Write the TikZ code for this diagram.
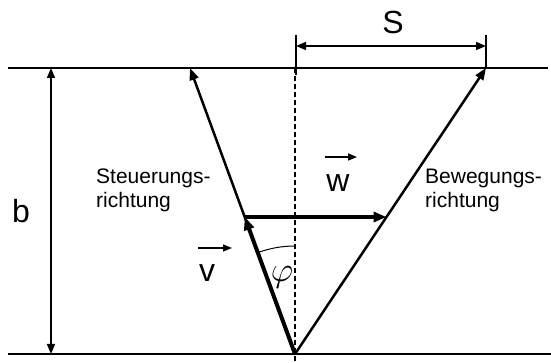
\documentclass[tikz,border=0pt]{standalone}
\usepackage{fontspec}
\setmainfont{Liberation Sans}
\usetikzlibrary{arrows.meta}
\begin{document}
\begin{tikzpicture}[x=1pt,y=1pt,
  borderline/.style={line width=1.6pt},
  dimline/.style={line width=1.5pt},
  dimtip/.style={{Triangle[length=10pt,width=8pt]}-{Triangle[length=10pt,width=8pt]}},
  dirline/.style={line width=2.5pt,-{Triangle[length=12pt,width=9pt]}},
  vecline/.style={line width=4pt,-{Triangle[length=13pt,width=10pt]}},
  smallarrow/.style={line width=1.5pt,-{Triangle[length=9pt,width=7pt]}},
  bigtext/.style={inner sep=0pt,font=\fontsize{32}{36}\selectfont},
  smalltext/.style={inner sep=0pt,font=\fontsize{21}{24}\selectfont,anchor=base west},
]
\useasboundingbox (0,0) rectangle (551,363);
% reference points
\coordinate (TL) at (8,295);
\coordinate (TR) at (548,295);
\coordinate (BL) at (8,9);
\coordinate (BR) at (551,9);
\coordinate (O) at (295,9);
\coordinate (T) at (190,295);
\coordinate (B) at (486,295);
\coordinate (V) at (244.7,146);
\coordinate (W) at (386.5,146);
\coordinate (Dtop) at (295,295);
\coordinate (Dbot) at (295,0);
\coordinate (bT) at (51,295);
\coordinate (bB) at (51,9);
\coordinate (S1a) at (296,288);
\coordinate (S1b) at (296,328);
\coordinate (S2a) at (486,295);
\coordinate (S2b) at (486,328);
\coordinate (SL) at (296,317);
\coordinate (SR) at (486,317);
% horizontal borders
\draw[borderline] (TL) -- (TR);
\draw[borderline] (BL) -- (BR);
% dashed vertical
\draw[line width=1.1pt,dash pattern=on 5pt off 3pt] (Dtop) -- (Dbot);
% b dimension
\draw[dimline,dimtip] (bT) -- (bB);
\node[bigtext] (b) at (21,152) {b};
% S dimension
\draw[dimline] (S1a) -- (S1b);
\draw[dimline] (S2a) -- (S2b);
\draw[dimline,dimtip] (SL) -- (SR);
\node[bigtext] (S) at (393,341) {S};
% direction lines
\draw[dirline] (O) -- (T);
\draw[dirline] (O) -- (B);
% vectors
\draw[vecline] (O) -- (V);
\draw[vecline] (V) -- (W);
% angle arc
\draw[line width=1pt] (O) ++(90:108) arc[start angle=90,end angle=110.2,radius=108];
\node[inner sep=0pt,font=\fontsize{24}{28}\selectfont,scale=1.4] (phi) at (282,86) {$\varphi$};
% vector labels
\node[bigtext] (v) at (207,90) {v};
\coordinate (va) at (198,115);
\coordinate (vb) at (232,115);
\draw[smallarrow] (va) -- (vb);
\node[bigtext] (w) at (338,179.5) {w};
\coordinate (wa) at (325,206);
\coordinate (wb) at (357,206);
\draw[smallarrow] (wa) -- (wb);
% text labels
\node[smalltext] (st1) at (96,179) {Steuerungs-};
\node[smalltext] (st2) at (96,155) {richtung};
\node[smalltext] (be1) at (425,179) {Bewegungs-};
\node[smalltext] (be2) at (425,155) {richtung};
\end{tikzpicture}
\end{document}
